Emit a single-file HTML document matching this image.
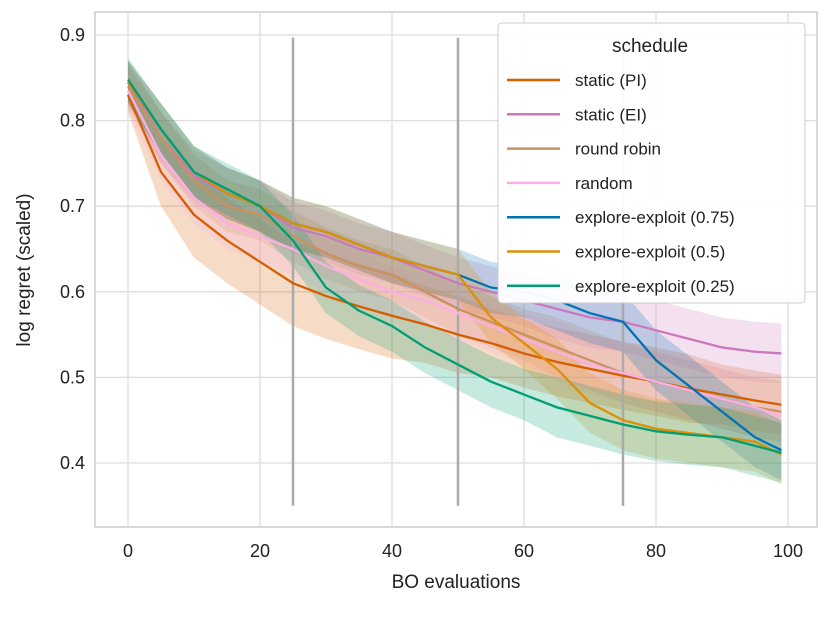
<!DOCTYPE html>
<html><head><meta charset="utf-8"><style>
body{margin:0;background:#fff;font-family:"Liberation Sans",sans-serif}
svg text{font-family:"Liberation Sans",sans-serif;fill:#222}
</style></head><body>
<svg id="chart" width="830" height="613"></svg>
<script>
const xs=[0,5,10,15,20,25,30,35,40,45,50,55,60,65,70,75,80,85,90,95,99];
const seriesNames=["static (PI)","static (EI)","round robin","random","explore-exploit (0.75)","explore-exploit (0.5)","explore-exploit (0.25)"];
const colors=["#d55e00","#cc78bc","#ca9161","#fbafe4","#0173b2","#de8f05","#029e73"];
const sPI=[0.83,0.74,0.69,0.66,0.635,0.61,0.595,0.583,0.572,0.562,0.55,0.54,0.528,0.518,0.51,0.502,0.495,0.487,0.48,0.473,0.468];
const sEI=[0.845,0.78,0.735,0.715,0.70,0.675,0.665,0.65,0.64,0.625,0.61,0.60,0.59,0.58,0.57,0.565,0.555,0.545,0.535,0.53,0.528];
const rr=[0.84,0.78,0.73,0.70,0.69,0.665,0.645,0.63,0.62,0.60,0.58,0.565,0.55,0.535,0.52,0.505,0.495,0.485,0.475,0.465,0.46];
const rnd=[0.835,0.76,0.71,0.68,0.665,0.65,0.63,0.615,0.60,0.59,0.575,0.56,0.545,0.53,0.515,0.505,0.495,0.485,0.475,0.465,0.455];
const ee75=[0.845,0.79,0.74,0.715,0.70,0.68,0.67,0.655,0.64,0.63,0.62,0.605,0.60,0.59,0.575,0.565,0.52,0.49,0.46,0.43,0.415];
const ee50=[0.845,0.79,0.74,0.715,0.70,0.68,0.67,0.655,0.64,0.63,0.62,0.57,0.54,0.51,0.47,0.45,0.44,0.435,0.43,0.425,0.41];
const ee25=[0.848,0.79,0.74,0.72,0.70,0.66,0.605,0.578,0.56,0.535,0.515,0.495,0.48,0.465,0.455,0.445,0.437,0.433,0.43,0.42,0.412];
const bandPI=[0.02,0.04,0.05,0.05,0.05,0.05,0.05,0.05,0.05,0.045,0.045,0.04,0.04,0.04,0.04,0.04,0.04,0.04,0.035,0.035,0.035];
const bandOther=[0.025,0.03,0.03,0.03,0.03,0.03,0.03,0.03,0.03,0.03,0.03,0.03,0.03,0.035,0.035,0.035,0.035,0.035,0.035,0.035,0.035];
const allSeries=[sPI,sEI,rr,rnd,ee75,ee50,ee25];
const allBands=[bandPI,bandOther,bandOther,bandOther,bandOther,bandOther,bandOther];
const xTicks=[0,20,40,60,80,100];
const yTicks=[0.4,0.5,0.6,0.7,0.8,0.9];
const vLines=[25,50,75];
const vRange=[0.35,0.897];

const svg=document.getElementById('chart');
const NS='http://www.w3.org/2000/svg';
const X=v=>128+v*6.6;
const Y=v=>463-(v-0.4)*856;
function el(t,a,p){const e=document.createElementNS(NS,t);for(const k in a)e.setAttribute(k,a[k]);(p||svg).appendChild(e);return e;}
const frame=el('rect',{x:95,y:12,width:722,height:515,fill:'#fff',stroke:'#ccc','stroke-width':1.5});


xTicks.forEach(t=>{
 const g=el('line',{x1:X(t),x2:X(t),y1:12,y2:527,stroke:'#ddd','stroke-width':1.3});
 
 
 const l=el('text',{x:X(t),y:557,'text-anchor':'middle','font-size':18});l.textContent=t;
 
 
});
yTicks.forEach(t=>{
 const g=el('line',{x1:95,x2:817,y1:Y(t),y2:Y(t),stroke:'#ddd','stroke-width':1.3});
 
 
 const l=el('text',{x:85,y:Y(t)+6,'text-anchor':'end','font-size':18});l.textContent=t.toFixed(1);
 
 
});
allSeries.forEach((s,i)=>{
 const b=allBands[i];
 let d='M'+xs.map((x,j)=>X(x)+','+Y(s[j]+b[j])).join('L');
 d+='L'+xs.map((x,j)=>X(x)+','+Y(s[j]-b[j])).reverse().join('L')+'Z';
 const p=el('path',{d,fill:colors[i],'fill-opacity':0.22,stroke:'none'});
 
 
});
vLines.forEach(v=>{
 const l=el('line',{x1:X(v),x2:X(v),y1:Y(vRange[1]),y2:Y(vRange[0]),stroke:'#aaa','stroke-width':2.5});
 
 
});
allSeries.forEach((s,i)=>{
 const p=el('path',{d:'M'+xs.map((x,j)=>X(x)+','+Y(s[j])).join('L'),fill:'none',stroke:colors[i],'stroke-width':2.3});
 
 
});
const xt=el('text',{x:456,y:588,'text-anchor':'middle','font-size':19});xt.textContent='BO evaluations';


const yt=el('text',{x:0,y:0,'text-anchor':'middle','font-size':19,transform:'translate(30,270) rotate(-90)'});yt.textContent='log regret (scaled)';


const lg=el('g',{});


el('rect',{x:498,y:23,width:307,height:280,rx:4,fill:'#fff','fill-opacity':0.95,stroke:'#ccc'},lg);
const lt=el('text',{x:650,y:52,'text-anchor':'middle','font-size':19},lg);lt.textContent='schedule';
seriesNames.forEach((n,i)=>{
 const y=80+i*34.3;
 const g=el('g',{},lg);
 
 
 el('line',{x1:507,x2:560,y1:y,y2:y,stroke:colors[i],'stroke-width':2.5},g);
 const t=el('text',{x:575,y:y+6,'font-size':17},g);t.textContent=n;
});
</script>
</body></html>
